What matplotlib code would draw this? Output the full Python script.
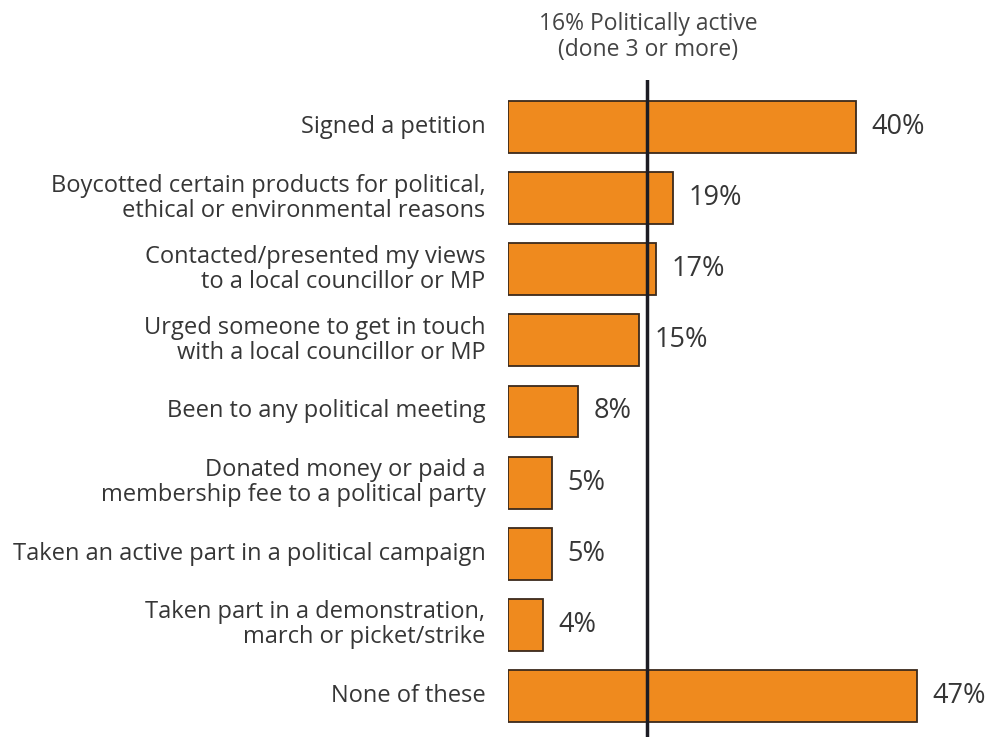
import numpy as np
import matplotlib.pyplot as plt

plt.rcParams['font.family'] = ['Open Sans', 'DejaVu Sans']

labels = [
    "Signed a petition",
    "Boycotted certain products for political,\nethical or environmental reasons",
    "Contacted/presented my views\nto a local councillor or MP",
    "Urged someone to get in touch\nwith a local councillor or MP",
    "Been to any political meeting",
    "Donated money or paid a\nmembership fee to a political party",
    "Taken an active part in a political campaign",
    "Taken part in a demonstration,\nmarch or picket/strike",
    "None of these",
]
values = [40, 19, 17, 15, 8, 5, 5, 4, 47]
active_pct = 16
active_label = "16% Politically active\n(done 3 or more)"

fig = plt.figure(figsize=(9.98, 7.37), dpi=100)
ax = fig.add_axes([508 / 998, 0, 1 - 508 / 998, (737 - 80) / 737])

y = np.arange(len(values))
ax.barh(y, values, height=0.73, color='#ef8a1e', edgecolor='#3b2a1c', linewidth=1.3)

for yi, v in zip(y, values):
    ax.text(v + 1.8, yi, f"{v}%", va='center', ha='left', fontsize=19.5, color='#363636')

for yi, lab in zip(y, labels):
    ax.text(-2.6, yi, lab, va='center', ha='right', fontsize=17, color='#363636',
            linespacing=1.05)

ax.axvline(active_pct, color='#1c1c24', linewidth=2.5, zorder=3)

ax.set_xlim(0, (998 - 508) / 8.7)
ax.set_ylim(8.577, -0.661)
ax.axis('off')

fig.text(648 / 998, 1 - 37 / 737, active_label, ha='center', va='center',
         fontsize=16.5, color='#444444', linespacing=1.15)

fig.savefig('out.png', dpi=100)
